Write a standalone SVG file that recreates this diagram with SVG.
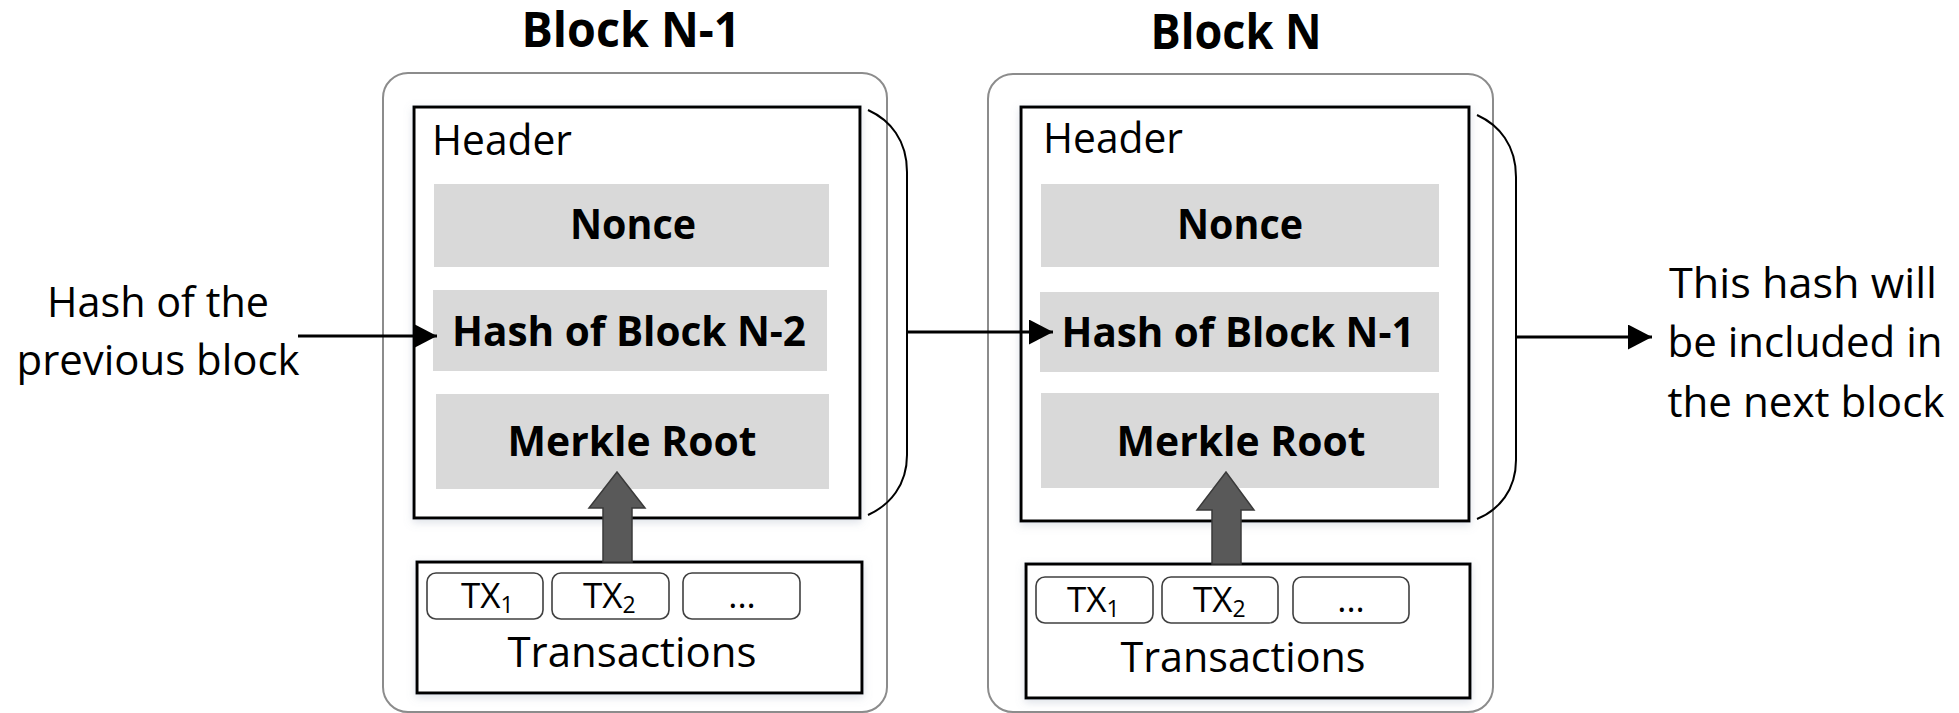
<svg xmlns="http://www.w3.org/2000/svg" width="1959" height="713" viewBox="0 0 1959 713">
  <defs>
    <style>
      text { font-family: "Open Sans", "Liberation Sans", sans-serif; fill: #000; }
      .title { font-size: 49px; font-weight: 700; text-anchor: middle; }
      .field { font-size: 41px; font-weight: 700; text-anchor: middle; }
      .label { font-size: 42px; }
      .side { font-size: 42px; text-anchor: middle; }
      .tx { font-size: 35px; }
      .sub { font-size: 23px; }
      .outer { fill: #fff; stroke: #8c8c8c; stroke-width: 2; }
      .frame { fill: #fff; stroke: #000; stroke-width: 3; filter: url(#soft); }
      .cell { fill: #d9d9d9; }
      .txcell { fill: #fff; stroke: #404040; stroke-width: 1.6; }
      .bigarrow { fill: #595959; stroke: #3a3a3a; stroke-width: 1.5; }
      .link { fill: none; stroke: #000; stroke-width: 3; marker-end: url(#head); }
      .brace { fill: none; stroke: #000; stroke-width: 2; }
    </style>
    <marker id="head" markerUnits="userSpaceOnUse" markerWidth="26" markerHeight="26" refX="24" refY="12.5" orient="auto">
      <path d="M0,0 L24,12.5 L0,25 Z" fill="#000"/>
    </marker>
    <filter id="soft" x="-5%" y="-5%" width="110%" height="115%">
      <feDropShadow dx="0" dy="3" stdDeviation="4" flood-color="#8e9bb0" flood-opacity="0.3"/>
    </filter>
  </defs>

  <rect width="1959" height="713" fill="#fff"/>

  <!-- Block N-1 -->
  <g id="block-n-1">
    <text class="title" x="631" y="47" textLength="219" lengthAdjust="spacingAndGlyphs">Block N-1</text>
    <rect class="outer" x="383" y="73" width="504" height="639" rx="25"/>
    <rect class="frame" x="414" y="107" width="446" height="411"/>
    <text class="label" x="432" y="155" textLength="140" lengthAdjust="spacingAndGlyphs">Header</text>
    <rect class="cell" x="434" y="184" width="395" height="83"/>
    <text class="field" x="633" y="239" textLength="126" lengthAdjust="spacingAndGlyphs">Nonce</text>
    <rect class="cell" x="433" y="290" width="394" height="81"/>
    <text class="field" x="629" y="346" textLength="354" lengthAdjust="spacingAndGlyphs">Hash of Block N-2</text>
    <rect class="cell" x="436" y="394" width="393" height="95"/>
    <text class="field" x="632" y="456" textLength="249" lengthAdjust="spacingAndGlyphs">Merkle Root</text>
    <rect class="frame" x="417" y="562" width="445" height="131"/>
    <rect class="txcell" x="427" y="573" width="116" height="46" rx="9"/>
    <rect class="txcell" x="552" y="573" width="117" height="46" rx="9"/>
    <rect class="txcell" x="683" y="573" width="117" height="46" rx="9"/>
    <text class="tx" x="461" y="608">TX<tspan class="sub" dy="5">1</tspan></text>
    <text class="tx" x="583" y="608">TX<tspan class="sub" dy="5">2</tspan></text>
    <text class="tx" x="742" y="608" text-anchor="middle">...</text>
    <text class="side" x="632" y="667" textLength="249" lengthAdjust="spacingAndGlyphs">Transactions</text>
    <polygon class="bigarrow" points="603,562 603,508 589,508 617,472 645,508 632,508 632,562"/>
  </g>

  <!-- Block N -->
  <g id="block-n">
    <text class="title" x="1236" y="49" textLength="171" lengthAdjust="spacingAndGlyphs">Block N</text>
    <rect class="outer" x="988" y="74" width="505" height="638" rx="25"/>
    <rect class="frame" x="1021" y="107" width="448" height="414"/>
    <text class="label" x="1043" y="153" textLength="140" lengthAdjust="spacingAndGlyphs">Header</text>
    <rect class="cell" x="1041" y="184" width="398" height="83"/>
    <text class="field" x="1240" y="239" textLength="126" lengthAdjust="spacingAndGlyphs">Nonce</text>
    <rect class="cell" x="1040" y="292" width="399" height="80"/>
    <text class="field" x="1238" y="347" textLength="353" lengthAdjust="spacingAndGlyphs">Hash of Block N-1</text>
    <rect class="cell" x="1041" y="393" width="398" height="95"/>
    <text class="field" x="1241" y="456" textLength="249" lengthAdjust="spacingAndGlyphs">Merkle Root</text>
    <rect class="frame" x="1026" y="564" width="444" height="134"/>
    <rect class="txcell" x="1036" y="577" width="117" height="46" rx="9"/>
    <rect class="txcell" x="1162" y="577" width="116" height="46" rx="9"/>
    <rect class="txcell" x="1293" y="577" width="116" height="46" rx="9"/>
    <text class="tx" x="1067" y="612">TX<tspan class="sub" dy="5">1</tspan></text>
    <text class="tx" x="1193" y="612">TX<tspan class="sub" dy="5">2</tspan></text>
    <text class="tx" x="1351" y="612" text-anchor="middle">...</text>
    <text class="side" x="1243" y="672" textLength="245" lengthAdjust="spacingAndGlyphs">Transactions</text>
    <polygon class="bigarrow" points="1212,564 1212,510 1197,510 1226,472 1254,510 1241,510 1241,564"/>
  </g>

  <!-- Side notes -->
  <g id="note-previous">
    <text class="side" x="158" y="317" textLength="222" lengthAdjust="spacingAndGlyphs">Hash of the</text>
    <text class="side" x="158" y="375" textLength="283" lengthAdjust="spacingAndGlyphs">previous block</text>
  </g>
  <g id="note-next">
    <text class="side" x="1803" y="298" textLength="268" lengthAdjust="spacingAndGlyphs">This hash will</text>
    <text class="side" x="1805" y="357" textLength="275" lengthAdjust="spacingAndGlyphs">be included in</text>
    <text class="side" x="1806" y="417" textLength="277" lengthAdjust="spacingAndGlyphs">the next block</text>
  </g>

  <!-- Connectors -->
  <g id="connectors">
    <line class="link" x1="298" y1="336" x2="437" y2="336"/>
    <path class="brace" d="M868,110 C890,120 907,140 907,172 V455 C907,485 890,505 868,515"/>
    <line class="link" x1="907" y1="332" x2="1053" y2="332"/>
    <path class="brace" d="M1477,115 C1499,125 1516,145 1516,177 V460 C1516,490 1499,510 1477,519"/>
    <line class="link" x1="1516" y1="337" x2="1652" y2="337"/>
  </g>
</svg>
